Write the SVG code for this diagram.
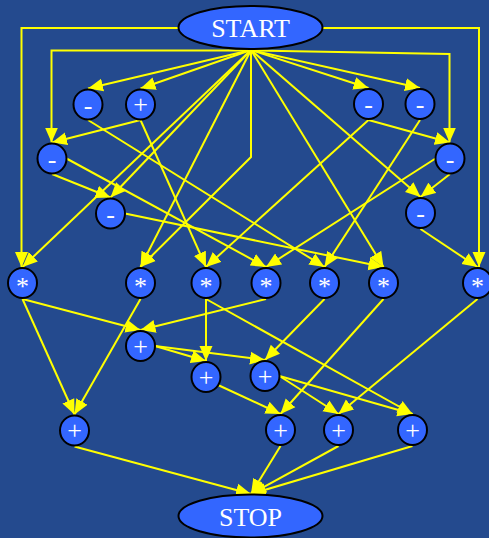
<svg xmlns="http://www.w3.org/2000/svg" width="489" height="538" viewBox="0 0 489 538">
<style>
.bg{fill:#244a8e}
.n{fill:#3366ff;stroke:#000;stroke-width:2}
.t{fill:#fff;font-family:"Liberation Serif","Times New Roman",serif;font-size:26px;text-anchor:middle}
.e{fill:none;stroke:#ffff00;stroke-width:2;marker-end:url(#ah)}
</style>
<defs>
<marker id="ah" markerUnits="userSpaceOnUse" markerWidth="16" markerHeight="14" refX="15" refY="7" orient="auto">
<path d="M0,0.5 L15,7 L0,13.5 Z" fill="#ffff00"/>
</marker>
</defs>
<rect class="bg" x="0" y="0" width="489" height="538"/>
<g id="connectors">
<polyline class="e" points="178,28 21.5,28 21.5,267"/>
<polyline class="e" points="323,28 479,28 479,267"/>
<polyline class="e" points="251,50.5 51.5,50.5 51.5,142.5"/>
<polyline class="e" points="251,50.5 449.5,54 449.5,142.5"/>
<line class="e" x1="251" y1="50" x2="88" y2="88.5"/>
<line class="e" x1="251" y1="50" x2="140.5" y2="88.5"/>
<line class="e" x1="251" y1="50" x2="368.5" y2="88"/>
<line class="e" x1="251" y1="50" x2="420" y2="88"/>
<line class="e" x1="251" y1="50" x2="22.5" y2="267"/>
<line class="e" x1="251" y1="50" x2="110.5" y2="197.5"/>
<line class="e" x1="251" y1="50" x2="140.5" y2="267"/>
<polyline class="e" points="251,50 251,157 140.5,267"/>
<line class="e" x1="251" y1="50" x2="420.5" y2="197"/>
<line class="e" x1="251" y1="50" x2="383.5" y2="267"/>
<line class="e" x1="140.5" y1="120" x2="52" y2="142.5"/>
<line class="e" x1="140.5" y1="120" x2="206" y2="267"/>
<line class="e" x1="88" y1="120" x2="324.5" y2="267"/>
<line class="e" x1="52" y1="174" x2="110.5" y2="197.5"/>
<line class="e" x1="66.5" y1="158.5" x2="266" y2="267"/>
<line class="e" x1="125" y1="213.5" x2="383.5" y2="267"/>
<line class="e" x1="368.5" y1="120" x2="450" y2="142.5"/>
<line class="e" x1="368.5" y1="120" x2="206" y2="267"/>
<line class="e" x1="420" y1="120" x2="324.5" y2="267"/>
<line class="e" x1="450" y1="174" x2="420.5" y2="197"/>
<line class="e" x1="435.5" y1="158.5" x2="266" y2="267"/>
<line class="e" x1="420.5" y1="229" x2="477.5" y2="267"/>
<line class="e" x1="22.5" y1="299" x2="140.5" y2="330"/>
<line class="e" x1="22.5" y1="299" x2="74.5" y2="414.5"/>
<line class="e" x1="140.5" y1="299" x2="74.5" y2="414.5"/>
<line class="e" x1="206" y1="299" x2="206" y2="361"/>
<line class="e" x1="206" y1="299" x2="412.5" y2="414"/>
<line class="e" x1="266" y1="299" x2="140.5" y2="330"/>
<line class="e" x1="324.5" y1="299" x2="265" y2="360"/>
<line class="e" x1="383.5" y1="299" x2="280.5" y2="414"/>
<line class="e" x1="477.5" y1="299" x2="338.5" y2="414"/>
<line class="e" x1="155" y1="346" x2="206" y2="361"/>
<line class="e" x1="155" y1="346" x2="265" y2="360"/>
<line class="e" x1="218" y1="385" x2="280.5" y2="414"/>
<line class="e" x1="279.5" y1="376" x2="338.5" y2="414"/>
<line class="e" x1="279.5" y1="376" x2="412.5" y2="414"/>
<line class="e" x1="74.5" y1="446.5" x2="251" y2="494"/>
<line class="e" x1="280.5" y1="446" x2="251" y2="494"/>
<line class="e" x1="338.5" y1="446" x2="251" y2="494"/>
<line class="e" x1="412.5" y1="446" x2="251" y2="494"/>
</g>
<g id="start"><ellipse class="n" cx="250.5" cy="27.5" rx="72" ry="21.5"/><text class="t" x="250.5" y="37">START</text></g>
<g id="stop"><ellipse class="n" cx="250.5" cy="516" rx="72" ry="21.5"/><text class="t" x="250.5" y="526">STOP</text></g>
<g id="sub1"><ellipse class="n" cx="88" cy="104.5" rx="14.5" ry="15"/><text class="t" x="88" y="113.5">-</text></g>
<g id="add1"><ellipse class="n" cx="140.5" cy="104.5" rx="14.5" ry="15"/><text class="t" x="140.5" y="113">+</text></g>
<g id="sub2"><ellipse class="n" cx="368.5" cy="104" rx="14.5" ry="15"/><text class="t" x="368.5" y="113">-</text></g>
<g id="sub3"><ellipse class="n" cx="420" cy="104" rx="14.5" ry="15"/><text class="t" x="420" y="113">-</text></g>
<g id="sub4"><ellipse class="n" cx="52" cy="158.5" rx="14.5" ry="15"/><text class="t" x="52" y="167.5">-</text></g>
<g id="sub5"><ellipse class="n" cx="450" cy="158.5" rx="14.5" ry="15"/><text class="t" x="450" y="167.5">-</text></g>
<g id="sub6"><ellipse class="n" cx="110.5" cy="213.5" rx="14.5" ry="15"/><text class="t" x="110.5" y="222.5">-</text></g>
<g id="sub7"><ellipse class="n" cx="420.5" cy="213" rx="14.5" ry="15"/><text class="t" x="420.5" y="222">-</text></g>
<g id="mul1"><ellipse class="n" cx="22.5" cy="283" rx="14.5" ry="15"/><text class="t" x="22.5" y="295">*</text></g>
<g id="mul2"><ellipse class="n" cx="140.5" cy="283" rx="14.5" ry="15"/><text class="t" x="140.5" y="295">*</text></g>
<g id="mul3"><ellipse class="n" cx="206" cy="283" rx="14.5" ry="15"/><text class="t" x="206" y="295">*</text></g>
<g id="mul4"><ellipse class="n" cx="266" cy="283" rx="14.5" ry="15"/><text class="t" x="266" y="295">*</text></g>
<g id="mul5"><ellipse class="n" cx="324.5" cy="283" rx="14.5" ry="15"/><text class="t" x="324.5" y="295">*</text></g>
<g id="mul6"><ellipse class="n" cx="383.5" cy="283" rx="14.5" ry="15"/><text class="t" x="383.5" y="295">*</text></g>
<g id="mul7"><ellipse class="n" cx="477.5" cy="283" rx="14.5" ry="15"/><text class="t" x="477.5" y="295">*</text></g>
<g id="add2"><ellipse class="n" cx="140.5" cy="346" rx="14.5" ry="15"/><text class="t" x="140.5" y="354.5">+</text></g>
<g id="add3"><ellipse class="n" cx="206" cy="377" rx="14.5" ry="15"/><text class="t" x="206" y="385.5">+</text></g>
<g id="add4"><ellipse class="n" cx="265" cy="376" rx="14.5" ry="15"/><text class="t" x="265" y="384.5">+</text></g>
<g id="add5"><ellipse class="n" cx="74.5" cy="430.5" rx="14.5" ry="15"/><text class="t" x="74.5" y="439">+</text></g>
<g id="add6"><ellipse class="n" cx="280.5" cy="430" rx="14.5" ry="15"/><text class="t" x="280.5" y="438.5">+</text></g>
<g id="add7"><ellipse class="n" cx="338.5" cy="430" rx="14.5" ry="15"/><text class="t" x="338.5" y="438.5">+</text></g>
<g id="add8"><ellipse class="n" cx="412.5" cy="430" rx="14.5" ry="15"/><text class="t" x="412.5" y="438.5">+</text></g>
</svg>
